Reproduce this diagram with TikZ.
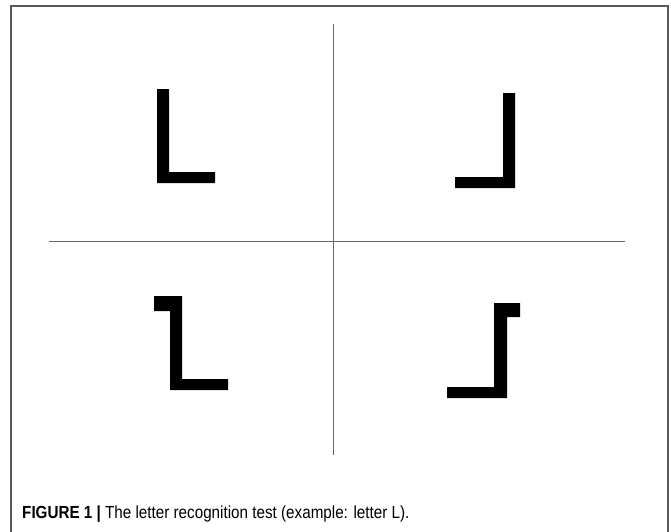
\documentclass[tikz,border=0pt]{standalone}
\usepackage{fontspec}
\newfontfamily\capfont{Liberation Sans}[FakeStretch=0.87]
\usetikzlibrary{positioning}

\begin{document}
\begin{tikzpicture}[
    x=1pt, y=-1pt,
    frame/.style={draw=black!65, line width=1.3pt},
    cross/.style={draw=black!60, line width=0.7pt},
    letter/.style={fill=black, draw=none},
    caption/.style={font=\capfont\fontsize{17.5}{19}\selectfont, anchor=base west, inner sep=0pt}
]
\useasboundingbox (0,0) rectangle (671,531);
% open frame
\draw[frame] (11,540) -- (11,6) -- (668,6) -- (668,540);
% cross
\draw[cross] (49,241) -- (625,241);
\draw[cross] (333,24) -- (333,455);
% the four L shapes
\fill[letter] (157,89) -- (169,89) -- (169,172) -- (215,172) -- (215,183) -- (157,183) -- cycle;
\fill[letter] (503,93) -- (515,93) -- (515,188) -- (455,188) -- (455,177) -- (503,177) -- cycle;
\fill[letter] (154,296) -- (182,296) -- (182,379) -- (228,379) -- (228,390) -- (170,390) -- (170,311) -- (154,311) -- cycle;
\fill[letter] (494,303) -- (520,303) -- (520,317) -- (507,317) -- (507,398) -- (447,398) -- (447,387) -- (494,387) -- cycle;
% caption
\node[caption] (cap) at (22,518) {\textbf{FIGURE 1 |} The letter recognition test (example: letter L).};
\end{tikzpicture}
\end{document}
